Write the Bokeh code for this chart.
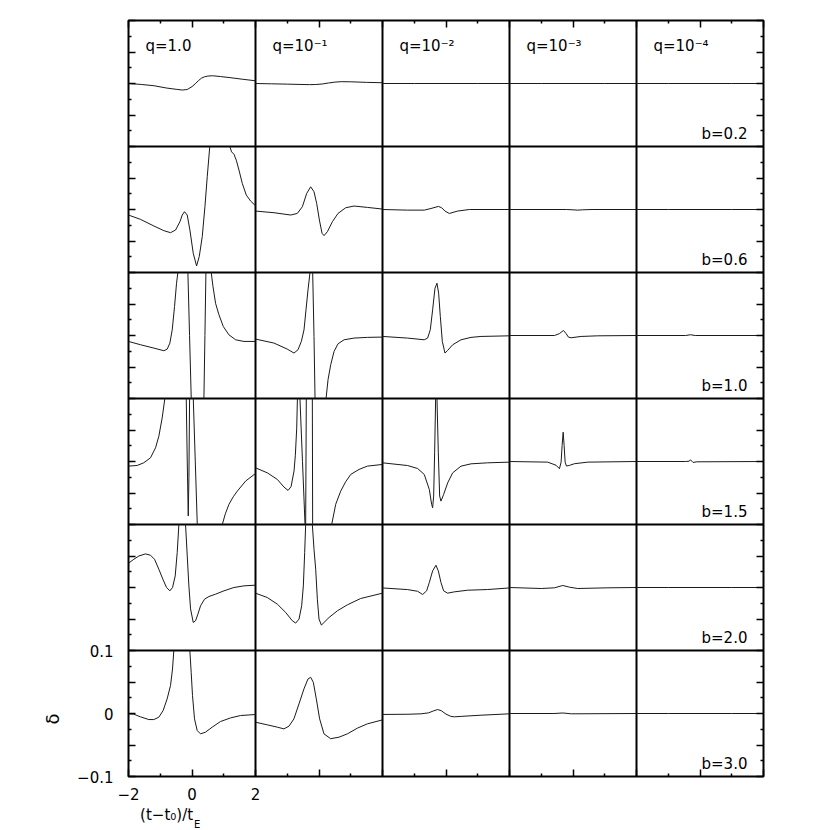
import math
import numpy as np
from bokeh.plotting import figure
from bokeh.models import Range1d, FixedTicker, LinearAxis, Label, Grid
from bokeh.embed import file_html
from bokeh.resources import INLINE

nan = float("nan")

# ---------------- labels / ticks ----------------
q_labels = ["q=1.0", "q=10⁻¹", "q=10⁻²", "q=10⁻³", "q=10⁻⁴"]
b_labels = ["b=0.2", "b=0.6", "b=1.0", "b=1.5", "b=2.0", "b=3.0"]
x_limits = [-2.0, 2.0]
y_limits = [-0.1, 0.1]
x_major = [-2, 0, 2]
x_minor = [-1, 1]
y_major = [-0.1, -0.05, 0.0, 0.05, 0.1]
y_minor = [-0.075, -0.025, 0.025, 0.075]
x_tick_text = {-2: "−2", 0: "0", 2: "2"}
y_tick_text = {-0.1: "−0.1", 0.0: "0", 0.1: "0.1"}
x_label_main = "(t−t₀)/t"
x_label_sub = "E"
y_label = "δ"

# ---------------- curves: row b=0.2 ----------------
b02_q0_x = [-2.0, -1.6, -1.2, -0.8, -0.5, -0.3, -0.15, 0.0, 0.1, 0.2, 0.3, 0.4, 0.5, 0.65, 0.9, 1.2, 1.6, 2.0]
b02_q0_y = [0.0, -0.0015, -0.0035, -0.0072, -0.0092, -0.0104, -0.0095, -0.005, -0.0005, 0.0044, 0.0086, 0.0107, 0.0118, 0.0123, 0.011, 0.0093, 0.0067, 0.0043]
b02_q1_x = [-2.0, -1.5, -1.0, -0.6, -0.3, -0.1, 0.1, 0.3, 0.5, 0.7, 1.0, 1.5, 2.0]
b02_q1_y = [0.0, -0.0005, -0.001, -0.0015, -0.0018, -0.0016, -0.0008, 0.0008, 0.0022, 0.0029, 0.0027, 0.0018, 0.0012]
b02_q2_x = [-2.0, -1.0, 0.0, 1.0, 2.0]
b02_q2_y = [0.0, 0.0, 0.0, 0.0, 0.0]
b02_q3_x = [-2.0, -1.0, 0.0, 1.0, 2.0]
b02_q3_y = [0.0, 0.0, 0.0, 0.0, 0.0]
b02_q4_x = [-2.0, -1.0, 0.0, 1.0, 2.0]
b02_q4_y = [0.0, 0.0, 0.0, 0.0, 0.0]

# ---------------- row b=0.6 ----------------
b06_q0_x = [-2.0, -1.62, -1.2, -0.886, -0.676, -0.518, -0.38, -0.308, -0.235, -0.15, -0.066, 0.039, 0.144, 0.228, 0.323, 0.407, 0.48, 0.56, nan,
            1.19, 1.247, 1.32, 1.395, 1.48, 1.584, 1.71, 1.846, 2.0]
b06_q0_y = [-0.0088, -0.0157, -0.0262, -0.0336, -0.0368, -0.0326, -0.0194, -0.0088, -0.0035, -0.0088, -0.0326, -0.0695, -0.0896, -0.0748, -0.043, 0.0044, 0.052, 0.1, nan,
            0.1, 0.0915, 0.0878, 0.0783, 0.0625, 0.0414, 0.0229, 0.0134, 0.006]
b06_q1_x = [-2.0, -1.418, -0.89, -0.682, -0.524, -0.388, -0.262, -0.157, -0.073, 0.012, 0.096, 0.159, 0.264, 0.421, 0.60, 0.842, 1.105, 1.525, 2.0]
b06_q1_y = [-0.0025, -0.0051, -0.0088, -0.0062, 0.0044, 0.0255, 0.036, 0.0282, 0.0097, -0.0167, -0.0378, -0.0415, -0.0352, -0.0194, -0.0062, 0.0028, 0.0055, 0.0033, 0.0007]
b06_q2_x = [-2.0, -1.21, -0.684, -0.473, -0.242, -0.137, -0.032, 0.105, 0.367, 0.735, 2.0]
b06_q2_y = [0.0, -0.001, -0.001, 0.0016, 0.0049, 0.0028, -0.0025, -0.0063, -0.0025, 0.0, 0.0]
b06_q3_x = [-2.0, -0.2, 0.0, 0.15, 0.3, 0.6, 2.0]
b06_q3_y = [0.0, 0.0, -0.0005, -0.001, -0.0005, 0.0, 0.0]
b06_q4_x = [-2.0, -1.0, 0.0, 1.0, 2.0]
b06_q4_y = [0.0, 0.0, 0.0, 0.0, 0.0]

# ---------------- row b=1.0 ----------------
b10_q0_x = [-2.0, -1.62, -1.2, -0.886, -0.781, -0.697, -0.623, -0.55, -0.487, -0.445, nan,
            -0.129, -0.077, -0.024, nan, 0.375, 0.407, 0.438, nan,
            0.606, 0.66, 0.743, 0.848, 0.985, 1.163, 1.374, 1.636, 2.0]
b10_q0_y = [-0.0094, -0.0147, -0.020, -0.0242, -0.0216, -0.0121, 0.009, 0.046, 0.083, 0.1, nan,
            0.1, 0.0, -0.1, nan, -0.1, 0.0, 0.1, nan,
            0.1, 0.078, 0.051, 0.033, 0.0143, 0.0011, -0.0068, -0.0094, -0.0094]
b10_q1_x = [-2.0, -1.42, -1.0, -0.787, -0.661, -0.556, -0.472, -0.409, -0.346, -0.283, nan,
            -0.199, -0.157, -0.125, nan,
            0.222, 0.285, 0.369, 0.474, 0.60, 0.79, 1.105, 1.525, 2.0]
b10_q1_y = [-0.0057, -0.012, -0.0216, -0.0279, -0.0226, -0.0094, 0.009, 0.0407, 0.0724, 0.1, nan,
            0.1, -0.0015, -0.1, nan,
            -0.1, -0.070, -0.0464, -0.0253, -0.0131, -0.0068, -0.0041, -0.003, -0.0025]
b10_q2_x = [-2.0, -1.21, -0.684, -0.579, -0.495, -0.421, -0.347, -0.284, -0.232, -0.179, -0.116, -0.032, 0.052, 0.21, 0.472, 0.788, 1.10, 2.0]
b10_q2_y = [-0.0015, -0.0041, -0.0068, -0.0041, 0.0091, 0.0407, 0.075, 0.083, 0.0671, 0.0302, -0.0094, -0.0279, -0.0237, -0.0147, -0.0068, -0.003, -0.0015, -0.0005]
b10_q3_x = [-2.0, -0.585, -0.427, -0.30, -0.217, -0.143, -0.06, 0.256, 0.78, 2.0]
b10_q3_y = [0.0, 0.0, 0.003, 0.008, 0.003, -0.0026, -0.0036, -0.0015, -0.0005, 0.0]
b10_q4_x = [-2.0, -0.45, -0.3, -0.15, 2.0]
b10_q4_y = [0.0, 0.0, 0.0012, 0.0, 0.0]

# ---------------- row b=1.5 ----------------
b15_q0_x = [-2.0, -1.727, -1.517, -1.307, -1.149, -1.044, -0.939, -0.855, nan,
            -0.181, -0.15, -0.118, -0.097, -0.076, nan,
            0.04, 0.103, 0.166, nan,
            0.954, 1.05, 1.164, 1.3, 1.427, 1.69, 2.0]
b15_q0_y = [-0.0073, -0.0063, -0.002, 0.0059, 0.0217, 0.0402, 0.0692, 0.1, nan,
            0.1, 0.0006, -0.0865, -0.0258, 0.1, nan,
            0.1, 0.0006, -0.1, nan,
            -0.1, -0.083, -0.068, -0.056, -0.047, -0.031, -0.019]
b15_q1_x = [-2.0, -1.628, -1.313, -1.103, -0.975, -0.88, -0.786, -0.745, -0.702, -0.68, nan,
            -0.60, -0.52, -0.44, nan,
            -0.42, -0.40, nan,
            -0.21, -0.20, nan,
            0.40, 0.526, 0.684, 0.842, 1.0, 1.26, 1.525, 2.0]
b15_q1_y = [-0.010, -0.018, -0.0284, -0.0406, -0.0459, -0.040, -0.015, 0.01, 0.053, 0.1, nan,
            0.1, 0.0, -0.1, nan,
            -0.1, 0.1, nan,
            0.1, -0.1, nan,
            -0.1, -0.068, -0.047, -0.032, -0.0205, -0.0126, -0.0073, -0.0047]
b15_q2_x = [-2.0, -1.21, -0.894, -0.684, -0.526, -0.452, -0.421, -0.389, -0.358, -0.326, nan,
            -0.284, -0.242, -0.20, -0.158, -0.074, 0.052, 0.21, 0.472, 0.788, 1.313, 2.0]
b15_q2_y = [-0.0021, -0.0064, -0.0111, -0.0206, -0.0444, -0.0681, -0.0734, -0.0549, 0.0137, 0.1, nan,
            0.1, 0.0137, -0.0549, -0.0629, -0.0523, -0.034, -0.018, -0.0074, -0.0037, -0.0021, -0.001]
b15_q3_x = [-2.0, -0.795, -0.532, -0.427, -0.375, -0.343, -0.31, -0.28, -0.248, -0.206, -0.112, 0.046, 0.466, 2.0]
b15_q3_y = [0.0, -0.001, -0.006, -0.0115, -0.001, 0.0255, 0.0465, 0.0255, -0.001, -0.0072, -0.0062, -0.0035, -0.001, 0.0]
b15_q4_x = [-2.0, -0.45, -0.34, -0.3, -0.26, -0.22, -0.1, 2.0]
b15_q4_y = [0.0, 0.0, 0.0005, 0.0028, 0.0005, -0.0015, -0.0005, 0.0]

# ---------------- row b=2.0 ----------------
b20_q0_x = [-2.0, -1.832, -1.674, -1.464, -1.307, -1.18, -1.044, -0.918, -0.802, -0.697, -0.613, -0.529, -0.466, -0.413, nan,
            -0.203, -0.15, -0.098, -0.045, 0.039, 0.112, 0.186, 0.27, 0.396, 0.533, 0.743, 1.006, 1.32, 1.636, 2.0]
b20_q0_y = [0.0385, 0.0448, 0.050, 0.0533, 0.0512, 0.0448, 0.029, 0.0132, 0.0, -0.0053, 0.0, 0.0184, 0.0554, 0.1, nan,
            0.1, 0.0501, 0.0026, -0.034, -0.0555, -0.0528, -0.0423, -0.029, -0.0185, -0.0143, -0.0106, -0.0053, 0.0, 0.0026, 0.0037]
b20_q1_x = [-2.0, -1.628, -1.313, -1.05, -0.84, -0.735, -0.63, -0.546, -0.493, -0.451, -0.42, nan,
            -0.21, -0.157, -0.104, -0.052, 0.0, 0.075, 0.159, 0.316, 0.579, 0.894, 1.31, 2.0]
b20_q1_y = [-0.009, -0.0159, -0.0264, -0.0396, -0.0528, -0.0565, -0.0502, -0.029, 0.0026, 0.0554, 0.1, nan,
            0.1, 0.0607, 0.029, -0.0185, -0.050, -0.0597, -0.0555, -0.0476, -0.037, -0.0275, -0.0175, -0.009]
b20_q2_x = [-2.0, -1.21, -0.894, -0.736, -0.61, -0.526, -0.421, -0.316, -0.242, -0.158, -0.074, 0.052, 0.262, 0.683, 1.313, 2.0]
b20_q2_y = [-0.0007, -0.0033, -0.006, -0.0111, -0.0053, 0.0079, 0.0264, 0.0353, 0.0264, 0.0079, -0.0053, -0.009, -0.0069, -0.0043, -0.0032, -0.0007]
b20_q3_x = [-2.0, -1.0, -0.585, -0.32, -0.11, 0.15, 1.1, 2.0]
b20_q3_y = [0.0, -0.0016, -0.0005, 0.0032, 0.0005, -0.0016, -0.0005, 0.0]
b20_q4_x = [-2.0, -1.0, 0.0, 1.0, 2.0]
b20_q4_y = [0.0, 0.0, 0.0, 0.0, 0.0]

# ---------------- row b=3.0 ----------------
b30_q0_x = [-2.0, -1.834, -1.623, -1.36, -1.203, -1.045, -0.909, -0.783, -0.677, -0.614, -0.572, nan,
            -0.068, -0.026, 0.016, 0.079, 0.163, 0.268, 0.426, 0.636, 0.899, 1.214, 1.53, 2.0]
b30_q0_y = [-0.0006, -0.0011, -0.0053, -0.0096, -0.0096, -0.0059, 0.0047, 0.0232, 0.0443, 0.0707, 0.1, nan,
            0.1, 0.0654, 0.0284, -0.0085, -0.027, -0.0323, -0.0296, -0.0217, -0.0127, -0.007, -0.0032, -0.0016]
b30_q1_x = [-2.0, -1.63, -1.314, -1.104, -0.946, -0.79, -0.631, -0.474, -0.347, -0.263, -0.179, -0.085, 0.02, 0.157, 0.367, 0.63, 0.893, 1.208, 1.523, 2.0]
b30_q1_y = [-0.0138, -0.018, -0.0217, -0.0244, -0.0201, -0.0085, 0.0152, 0.039, 0.0548, 0.0575, 0.0496, 0.0232, -0.0085, -0.0323, -0.040, -0.0376, -0.0323, -0.0233, -0.0164, -0.0101]
b30_q2_x = [-2.0, -1.2, -0.79, -0.55, -0.4, -0.263, -0.15, 0.0, 0.15, 0.262, 0.5, 1.1, 2.0]
b30_q2_y = [-0.0015, -0.0012, -0.0005, 0.001, 0.004, 0.0063, 0.0045, -0.001, -0.0045, -0.0053, -0.0045, -0.0027, -0.0005]
b30_q3_x = [-2.0, -0.6, -0.32, -0.05, 2.0]
b30_q3_y = [0.0, 0.0, 0.0008, -0.0005, 0.0]
b30_q4_x = [-2.0, -1.0, 0.0, 1.0, 2.0]
b30_q4_y = [0.0, 0.0, 0.0, 0.0, 0.0]

panels = [
    [(b02_q0_x, b02_q0_y), (b02_q1_x, b02_q1_y), (b02_q2_x, b02_q2_y), (b02_q3_x, b02_q3_y), (b02_q4_x, b02_q4_y)],
    [(b06_q0_x, b06_q0_y), (b06_q1_x, b06_q1_y), (b06_q2_x, b06_q2_y), (b06_q3_x, b06_q3_y), (b06_q4_x, b06_q4_y)],
    [(b10_q0_x, b10_q0_y), (b10_q1_x, b10_q1_y), (b10_q2_x, b10_q2_y), (b10_q3_x, b10_q3_y), (b10_q4_x, b10_q4_y)],
    [(b15_q0_x, b15_q0_y), (b15_q1_x, b15_q1_y), (b15_q2_x, b15_q2_y), (b15_q3_x, b15_q3_y), (b15_q4_x, b15_q4_y)],
    [(b20_q0_x, b20_q0_y), (b20_q1_x, b20_q1_y), (b20_q2_x, b20_q2_y), (b20_q3_x, b20_q3_y), (b20_q4_x, b20_q4_y)],
    [(b30_q0_x, b30_q0_y), (b30_q1_x, b30_q1_y), (b30_q2_x, b30_q2_y), (b30_q3_x, b30_q3_y), (b30_q4_x, b30_q4_y)],
]

# ---------------- layout of the panel grid ----------------
ncol = len(q_labels)
nrow = len(b_labels)
xs_span = x_limits[1] - x_limits[0]
ys_span = y_limits[1] - y_limits[0]

FONT = "DejaVu Sans"

p = figure(frame_width=635, frame_height=756,
           x_range=Range1d(x_limits[0], x_limits[0] + ncol * xs_span),
           y_range=Range1d(y_limits[0], y_limits[0] + nrow * ys_span),
           x_axis_location=None, y_axis_location=None,
           output_backend="svg", toolbar_location=None,
           min_border_left=128, min_border_right=12, min_border_top=20, min_border_bottom=50,
           background_fill_color="white", border_fill_color="white")
p.grid.visible = False
p.outline_line_color = "black"
p.outline_line_width = 2
p.outline_line_alpha = 1.0

# one scale per column / row, each mapping the panel limits onto its cell
p.extra_x_ranges = {f"col{c}": Range1d(x_limits[0] - c * xs_span, x_limits[0] + (ncol - c) * xs_span)
                    for c in range(ncol)}
p.extra_y_ranges = {f"row{r}": Range1d(y_limits[0] - (nrow - 1 - r) * ys_span, y_limits[0] + (r + 1) * ys_span)
                    for r in range(nrow)}

# panel separators
col_edges = [x_limits[0] + c * xs_span for c in range(1, ncol)]
row_edges = [y_limits[0] + k * ys_span for k in range(1, nrow)]
p.add_layout(Grid(dimension=0, ticker=FixedTicker(ticks=col_edges), grid_line_color="black", grid_line_width=2))
p.add_layout(Grid(dimension=1, ticker=FixedTicker(ticks=row_edges), grid_line_color="black", grid_line_width=2))

# ticks for every panel, labels only for the bottom-left one
x_major_all = sorted({round(v + c * xs_span, 6) for c in range(ncol) for v in x_major})
x_minor_all = sorted({round(v + c * xs_span, 6) for c in range(ncol) for v in x_minor})
y_major_all = sorted({round(v + k * ys_span, 6) for k in range(nrow) for v in y_major})
y_minor_all = sorted({round(v + k * ys_span, 6) for k in range(nrow) for v in y_minor})


def style_axis(ax, labels):
    ax.axis_line_color = None
    ax.major_tick_in = 7
    ax.major_tick_out = 0
    ax.minor_tick_in = 3
    ax.minor_tick_out = 0
    ax.major_tick_line_color = "black"
    ax.minor_tick_line_color = "black"
    ax.major_tick_line_width = 1.5
    ax.minor_tick_line_width = 1.5
    ax.major_label_text_font = FONT
    if labels:
        ax.major_label_text_font_size = "15px"
        ax.major_label_text_color = "black"
    else:
        ax.major_label_text_font_size = "1px"
        ax.major_label_text_color = None
        ax.major_label_standoff = 0


def title_axis(ticks, texts, size, standoff, orientation="horizontal"):
    ax = LinearAxis(ticker=FixedTicker(ticks=ticks, minor_ticks=[]),
                    major_label_overrides=dict(zip(ticks, texts)))
    ax.axis_line_color = None
    ax.major_tick_line_color = None
    ax.minor_tick_line_color = None
    ax.major_tick_in = 0
    ax.major_tick_out = 0
    ax.minor_tick_in = 0
    ax.minor_tick_out = 0
    ax.major_label_text_font = FONT
    ax.major_label_text_font_size = size
    ax.major_label_text_color = "black"
    ax.major_label_standoff = standoff
    ax.major_label_orientation = orientation
    return ax


left = LinearAxis(ticker=FixedTicker(ticks=y_major_all, minor_ticks=y_minor_all),
                  major_label_overrides={t: y_tick_text.get(t, "") for t in y_major_all})
style_axis(left, True)
left.major_label_standoff = 15
p.add_layout(left, "left")

# y title "δ", centred on the bottom-left panel
p.add_layout(title_axis([0.0], [y_label], "18px", 22, math.pi / 2), "left")

right = LinearAxis(ticker=FixedTicker(ticks=y_major_all, minor_ticks=y_minor_all))
style_axis(right, False)
p.add_layout(right, "right")

bottom = LinearAxis(ticker=FixedTicker(ticks=x_major_all, minor_ticks=x_minor_all),
                    major_label_overrides={t: x_tick_text.get(t, "") for t in x_major_all})
style_axis(bottom, True)
bottom.major_label_standoff = 11
p.add_layout(bottom, "below")

# x title "(t−t0)/tE" under the bottom-left panel (main part, then the subscript)
p.add_layout(title_axis([-0.80], [x_label_main], "15px", 3), "below")
p.add_layout(title_axis([0.16], [x_label_sub], "10px", -8), "below")

top = LinearAxis(ticker=FixedTicker(ticks=x_major_all, minor_ticks=x_minor_all))
style_axis(top, False)
p.add_layout(top, "above")

# curves
for r in range(nrow):
    for c in range(ncol):
        xs, ys = panels[r][c]
        p.line(np.array(xs, dtype=float), np.array(ys, dtype=float),
               x_range_name=f"col{c}", y_range_name=f"row{r}",
               line_color="#1a1a1a", line_width=1)

# panel annotations
for c in range(ncol):
    p.add_layout(Label(x=-1.465, y=0.059, x_range_name=f"col{c}", y_range_name="row0",
                       text=q_labels[c], text_font=FONT, text_font_size="15px",
                       text_color="black", text_align="left", text_baseline="alphabetic"))
for r in range(nrow):
    p.add_layout(Label(x=1.495, y=-0.080, x_range_name=f"col{ncol - 1}", y_range_name=f"row{r}",
                       text=b_labels[r], text_font=FONT, text_font_size="15px",
                       text_color="black", text_align="right", text_baseline="alphabetic"))

open("out.html", "w").write(file_html(p, INLINE))
